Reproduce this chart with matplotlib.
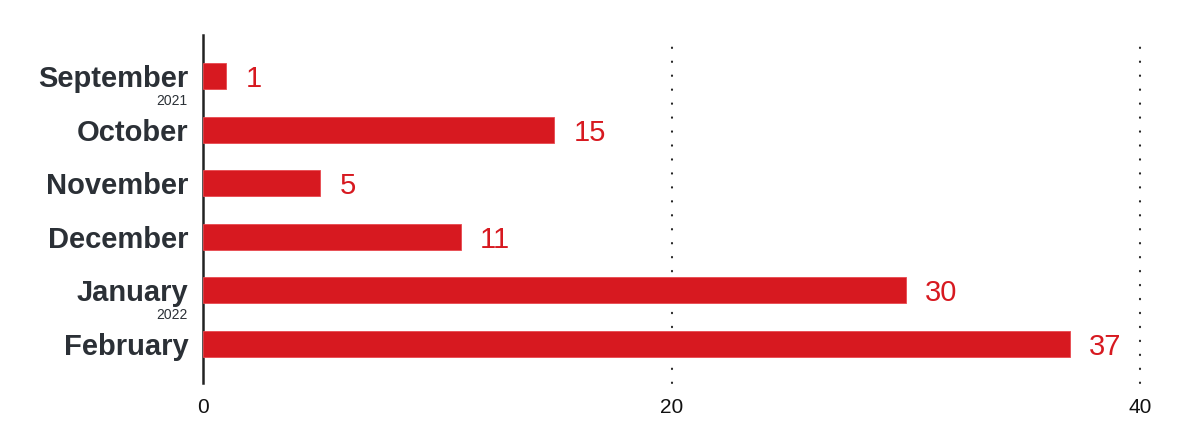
import matplotlib
matplotlib.use("Agg")
import matplotlib.pyplot as plt

months = ["September", "October", "November", "December", "January", "February"]
years = {"September": "2021", "January": "2022"}
counts = [1, 15, 5, 11, 30, 37]
xticks = [0, 20, 40]

RED = "#d71920"
DARK = "#2b3036"

plt.rcParams["font.family"] = ["Liberation Sans", "DejaVu Sans"]

fig = plt.figure(figsize=(12, 4.46), dpi=100)
ax = fig.add_axes([203 / 1200, 1 - 383 / 446, (1140 - 203) / 1200, (383 - 35) / 446])

pos = list(range(len(months)))
ax.barh(pos, counts, height=0.49, color=RED, edgecolor="#e8494f", linewidth=0.6, zorder=3)

for p, v in zip(pos, counts):
    ax.annotate(str(v), (v, p), xytext=(14, -2), textcoords="offset points",
                ha="left", va="center", color=RED, fontsize=21)

ax.set_xlim(0, 40)
ax.set_ylim(5.73, -0.77)
ax.set_xticks(xticks)
ax.set_xticklabels([str(t) for t in xticks], fontsize=15, color="#111111")
ax.tick_params(axis="x", length=0, pad=11)

ax.set_yticks(pos)
ax.set_yticklabels(months, fontsize=21, fontweight="bold", color=DARK)
ax.tick_params(axis="y", length=0, pad=10.5)

# small year notes under some month labels
for p, m in zip(pos, months):
    if m in years:
        ax.annotate(years[m], (0, p), xytext=(-11, -18), textcoords="offset points",
                    ha="right", va="center", fontsize=10, color=DARK,
                    annotation_clip=False)

for t in xticks[1:]:
    ax.axvline(t, color="#222222", linestyle=(0, (0.2, 6.5)), linewidth=1.5,
               dash_capstyle="round", zorder=1, clip_on=False)

for s in ["top", "right", "bottom"]:
    ax.spines[s].set_visible(False)
ax.spines["left"].set_color("#222222")
ax.spines["left"].set_linewidth(1.8)

fig.savefig("out.png", dpi=100, facecolor="white")
